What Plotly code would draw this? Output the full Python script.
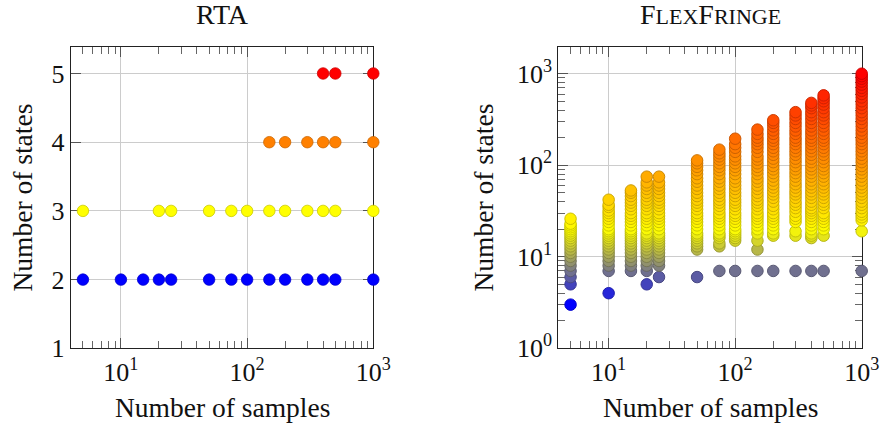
import math
import plotly.graph_objects as go

# ---------------- data ----------------
samples = [5, 10, 15, 20, 25, 50, 75, 100, 150, 200, 300, 400, 500, 1000]

# RTA: number of states found per sample size (each value is one point)
rta_states = {
    5: [2, 3],
    10: [2],
    15: [2],
    20: [2, 3],
    25: [2, 3],
    50: [2, 3],
    75: [2, 3],
    100: [2, 3],
    150: [2, 3, 4],
    200: [2, 3, 4],
    300: [2, 3, 4],
    400: [2, 3, 4, 5],
    500: [2, 3, 4, 5],
    1000: [2, 3, 4, 5],
}

# FlexFringe: number of states per run, per sample size
ff_states = {
    5: [3, 5, 6, 7, 8, 9, 10, 11, 12, 13, 14, 15, 16, 17, 18, 19, 20, 21, 22, 23, 26],
    10: [4, 7, 8, 9, 10, 11, 12, 13, 14, 15, 16, 17, 18, 19, 20, 22, 24, 26, 28, 30, 32, 35, 37, 42],
    15: [7, 8, 9, 10, 11, 12, 13, 14, 15, 16, 17, 18, 19, 20, 22, 24, 26, 28, 30, 33, 36, 39, 42, 46, 50, 53],
    20: [5, 7, 8, 9, 10, 11, 12, 13, 14, 15, 16, 17, 18, 20, 22, 24, 26, 28, 30, 33, 36, 39, 42, 46, 50, 55, 60, 65, 75],
    25: [6, 8, 9, 10, 11, 12, 13, 14, 15, 16, 17, 18, 20, 22, 24, 26, 28, 30, 33, 36, 39, 42, 46, 50, 55, 60, 65, 75],
    50: [6, 12, 13, 14, 15, 16, 17, 18, 20, 22, 24, 26, 28, 30, 33, 36, 39, 42, 46, 50, 55, 60, 66, 72, 80, 88, 96, 105, 113],
    75: [7, 13, 14, 16, 17, 18, 20, 22, 24, 26, 28, 30, 33, 36, 39, 42, 46, 50, 55, 60, 66, 72, 80, 88, 96, 105, 115, 125, 135, 148],
    100: [7, 15, 16, 17, 18, 19, 20, 22, 24, 26, 28, 30, 33, 36, 39, 42, 46, 50, 55, 60, 66, 72, 80, 88, 96, 105, 115, 125, 140, 155, 170, 195],
    150: [7, 12, 15, 18, 20, 22, 24, 26, 28, 30, 33, 36, 39, 42, 46, 50, 55, 60, 66, 72, 80, 88, 96, 105, 115, 125, 140, 155, 170, 185, 200, 220, 245],
    200: [7, 17, 18, 20, 22, 24, 26, 28, 30, 33, 36, 40, 44, 48, 52, 57, 62, 68, 75, 82, 90, 98, 108, 118, 130, 142, 155, 170, 185, 200, 220, 240, 265, 290, 310],
    300: [7, 17, 19, 24, 26, 28, 31, 34, 37, 40, 44, 48, 52, 57, 62, 68, 75, 82, 90, 98, 108, 118, 130, 142, 155, 170, 185, 200, 220, 240, 265, 290, 320, 350, 380],
    400: [7, 16, 17, 18, 20, 22, 24, 26, 28, 30, 32, 34, 37, 40, 44, 48, 52, 57, 62, 68, 75, 82, 90, 98, 108, 118, 130, 142, 155, 170, 185, 200, 220, 240, 265, 290, 320, 350, 380, 420, 450, 480],
    500: [7, 17, 20, 22, 24, 26, 28, 30, 34, 37, 40, 44, 48, 52, 57, 62, 68, 75, 82, 90, 98, 108, 118, 130, 142, 155, 170, 185, 200, 220, 240, 265, 290, 320, 350, 380, 420, 460, 500, 540, 580],
    1000: [7, 19, 25, 27, 29, 31, 34, 37, 40, 44, 48, 52, 57, 62, 68, 75, 82, 90, 98, 108, 118, 130, 142, 155, 170, 185, 200, 220, 240, 265, 290, 320, 350, 380, 420, 460, 500, 550, 600, 650, 700, 760, 820, 880, 940, 1000],
}

titles = ["RTA", "F<span style='font-size:22px'>LEX</span>F<span style='font-size:22px'>RINGE</span>"]
x_label = "Number of samples"
y_label = "Number of states"
x_tickvals = [10, 100, 1000]
x_ticktext = ["10<sup>1</sup>", "10<sup>2</sup>", "10<sup>3</sup>"]
rta_y_tickvals = [1, 2, 3, 4, 5]
ff_y_tickvals = [1, 10, 100, 1000]
ff_y_ticktext = ["10<sup>0</sup>", "10<sup>1</sup>", "10<sup>2</sup>", "10<sup>3</sup>"]

# ---------------- colour map (blue -> yellow -> orange -> red) ----------------
CMAP = [(0, 0, 1), (1, 1, 0), (1, 0.5, 0), (1, 0, 0)]


def cmap(t):
    t = min(max(t, 0.0), 1.0) * (len(CMAP) - 1)
    i = min(int(t), len(CMAP) - 2)
    f = t - i
    a, b = CMAP[i], CMAP[i + 1]
    return tuple(a[k] + (b[k] - a[k]) * f for k in range(3))


def rgb(c, k=1.0):
    return "rgb(%d,%d,%d)" % tuple(round(255 * v * k) for v in c)


def flatten(d):
    xs, ys = [], []
    for s in samples:
        for v in d.get(s, []):
            xs.append(s)
            ys.append(v)
    return xs, ys


FONT = "Liberation Serif"
FS = 26

fig = go.Figure()

# RTA (colour by linear y)
rx, ry = flatten(rta_states)
rmin, rmax = min(ry), max(ry)
rcols = [cmap((v - rmin) / (rmax - rmin)) for v in ry]
fig.add_trace(go.Scatter(
    x=rx, y=ry, mode="markers", xaxis="x", yaxis="y", cliponaxis=False,
    marker=dict(size=11.5, color=[rgb(c) for c in rcols],
                line=dict(color=[rgb(c, 0.8) for c in rcols], width=0.8)),
    showlegend=False, hoverinfo="x+y"))

# FlexFringe (colour by log y)
fx, fy = flatten(ff_states)
lmin, lmax = math.log10(min(fy)), math.log10(max(fy))
fcols = [cmap((math.log10(v) - lmin) / (lmax - lmin)) for v in fy]
fig.add_trace(go.Scatter(
    x=fx, y=fy, mode="markers", xaxis="x2", yaxis="y2", cliponaxis=False,
    marker=dict(size=11.5, color=[rgb(c) for c in fcols],
                line=dict(color=[rgb(c, 0.8) for c in fcols], width=1)),
    showlegend=False, hoverinfo="x+y"))

W, H = 881, 425
L1, R1 = 70.7, 373.3
L2, R2 = 558.3, 861.7
TOP, BOT = 46.7, 348.3


def px(x):
    return x / W


def py(y):
    return 1 - y / H


ydom = [py(BOT), py(TOP)]
xdom1 = [px(L1), px(R1)]
xdom2 = [px(L2), px(R2)]

axis_common = dict(
    showline=True, linecolor="#222", linewidth=1.2, mirror=True,
    ticks="inside", ticklen=10, tickwidth=1, tickcolor="#555",
    showgrid=True, gridcolor="#cccccc", gridwidth=1,
    zeroline=False, layer="below traces",
    tickfont=dict(family=FONT, size=FS, color="#111"),
    automargin=False,
)
minor_log = dict(ticks="inside", ticklen=7, tickwidth=1, tickcolor="#666", dtick="D1", showgrid=False)
XR = [math.log10(4), 3]
Y2R = [0, 3.295]
Y1R = [1, 5.39]

xlog = dict(type="log", range=XR, tickvals=x_tickvals, ticktext=x_ticktext,
            minor=minor_log, **axis_common)

# tick-only mirror axes (top / right) so that minor ticks also show there
mirror_common = dict(showline=False, showgrid=False, showticklabels=False, zeroline=False,
                     ticks="inside", ticklen=10, tickwidth=1, tickcolor="#555", layer="below traces")

fig.update_layout(
    width=W, height=H,
    margin=dict(l=0, r=0, t=0, b=0),
    paper_bgcolor="white", plot_bgcolor="white",
    font=dict(family=FONT, size=FS, color="#111"),
    xaxis=dict(domain=xdom1, anchor="y", **xlog),
    yaxis=dict(domain=ydom, anchor="x", range=Y1R, tickvals=rta_y_tickvals, **axis_common),
    xaxis2=dict(domain=xdom2, anchor="y2", **xlog),
    yaxis2=dict(domain=ydom, anchor="x2", type="log", range=Y2R, tickvals=ff_y_tickvals,
                ticktext=ff_y_ticktext, minor=minor_log, **axis_common),
    xaxis3=dict(overlaying="x", anchor="y", side="top", type="log", range=XR,
                tickvals=x_tickvals, minor=minor_log, **mirror_common),
    xaxis4=dict(overlaying="x2", anchor="y2", side="top", type="log", range=XR,
                tickvals=x_tickvals, minor=minor_log, **mirror_common),
    yaxis3=dict(overlaying="y", anchor="x", side="right", range=Y1R,
                tickvals=rta_y_tickvals, **mirror_common),
    yaxis4=dict(overlaying="y2", anchor="x2", side="right", type="log", range=Y2R,
                tickvals=ff_y_tickvals, minor=minor_log, **mirror_common),
)
# invisible traces to activate the mirror axes
for xa, ya, xv, yv in [("x3", "y3", 10, 2), ("x4", "y4", 10, 10)]:
    fig.add_trace(go.Scatter(x=[xv], y=[yv], xaxis=xa, yaxis=ya, mode="markers",
                             marker=dict(opacity=0), showlegend=False, hoverinfo="skip"))

ann = []
for cx, t in [((L1 + R1) / 2, titles[0]), ((L2 + R2) / 2, titles[1])]:
    ann.append(dict(x=px(cx), y=py(14), xref="paper", yref="paper", text=t,
                    showarrow=False, xanchor="center", yanchor="middle",
                    font=dict(family=FONT, size=28, color="#111")))
    ann.append(dict(x=px(cx), y=py(407), xref="paper", yref="paper", text=x_label,
                    showarrow=False, xanchor="center", yanchor="middle",
                    font=dict(family=FONT, size=27.5, color="#111")))
for cx in [22, 483]:
    ann.append(dict(x=px(cx), y=py((TOP + BOT) / 2), xref="paper", yref="paper",
                    text=y_label, textangle=-90, showarrow=False,
                    xanchor="center", yanchor="middle",
                    font=dict(family=FONT, size=27.5, color="#111")))
fig.update_layout(annotations=ann)

fig.write_html("out.html", config={"displayModeBar": False},
               post_script="document.body.style.margin='0px';")
